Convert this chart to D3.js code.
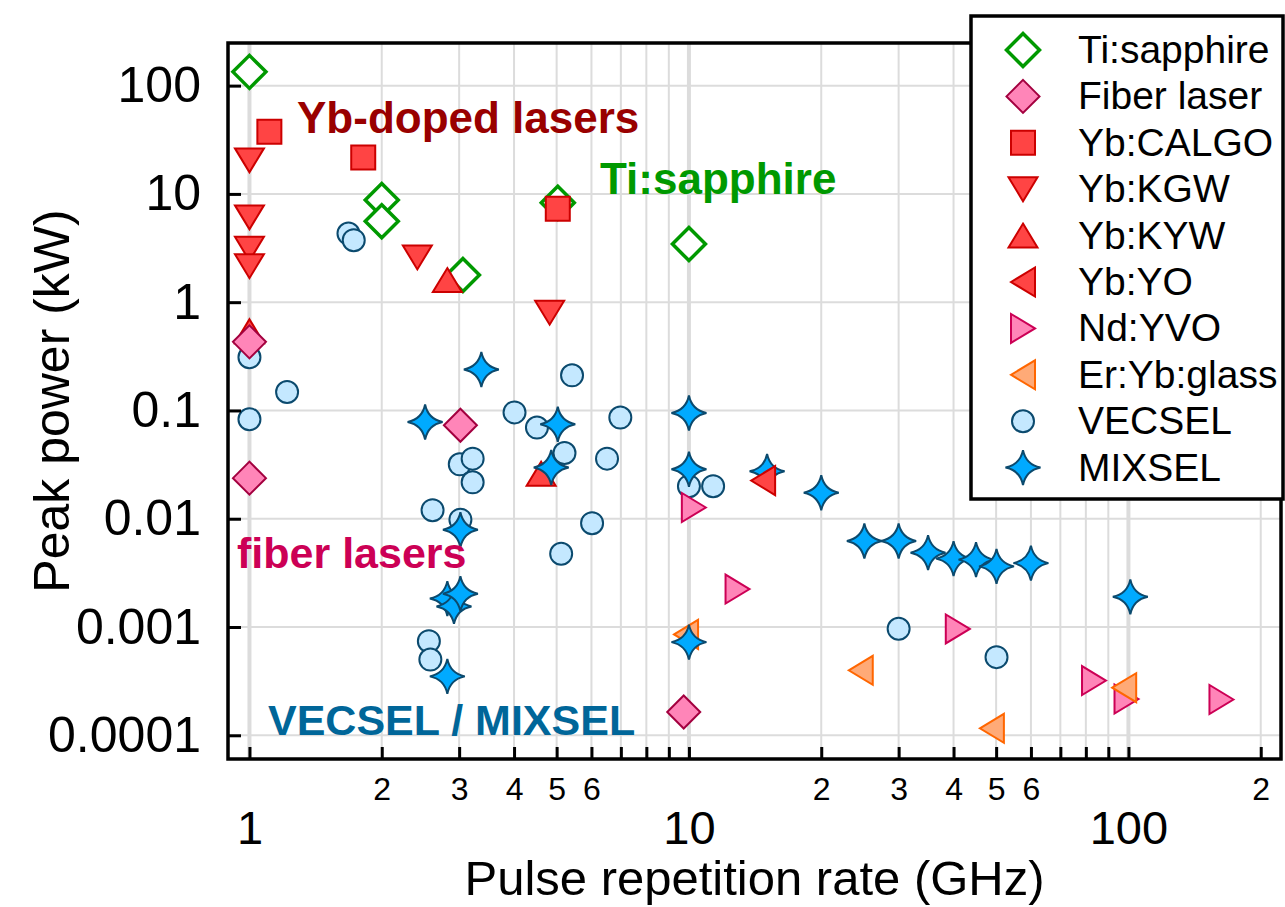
<!DOCTYPE html>
<html>
<head>
<meta charset="utf-8">
<script src="https://cdn.jsdelivr.net/npm/d3@7"></script>
<style>
  body { margin: 0; background: #fff; }
  svg { display: block; font-family: "Liberation Sans", Arial, sans-serif; }
</style>
</head>
<body>
<svg id="chart" width="1285" height="907"></svg>
<script>
// data: [repetition rate (GHz), peak power (kW)]
const tiSapphire = [[1.0, 134], [2.0, 8.8], [2.0, 5.6], [3.06, 1.78], [5.03, 8.3], [10.0, 3.44]];
const fiberLaser = [[1.0, 0.43], [1.0, 0.0237], [3.02, 0.073], [9.73, 0.000164]];
const ybCalgo = [[1.11, 37.5], [1.815, 21.7], [5.03, 7.3]];
const ybKgw = [[1.0, 20.4], [1.0, 6.07], [1.0, 3.11], [1.0, 2.15], [2.41, 2.59], [4.82, 0.80]];
const ybKyw = [[1.0, 0.54], [2.82, 1.6], [4.61, 0.026]];
const ybYo = [[14.75, 0.0225]];
const ndYvo = [[10.26, 0.0127], [12.9, 0.00224], [40.9, 0.00096], [83.5, 0.00032], [99, 0.000216], [162.8, 0.000214]];
const erYbGlass = [[9.85, 0.000855], [24.6, 0.000398], [48.9, 0.000116], [97.8, 0.000275]];
const vecsel = [[1.0, 0.31], [1.0, 0.083], [1.218, 0.148], [1.68, 4.3], [1.727, 3.74], [2.56, 0.00074],
  [2.58, 0.0005], [2.61, 0.012], [3.01, 0.0318], [3.02, 0.0098], [3.22, 0.0359], [3.22, 0.0217],
  [4.01, 0.096], [4.51, 0.0695], [5.12, 0.00475], [5.21, 0.0405], [5.42, 0.211], [6.02, 0.0091],
  [6.51, 0.0359], [6.98, 0.0859], [10.0, 0.020], [11.35, 0.020], [30, 0.000964], [50.1, 0.000527]];
const mixsel = [[2.51, 0.0783], [2.82, 0.00183], [2.82, 0.00035], [2.92, 0.00155], [3.02, 0.00203],
  [3.02, 0.0079], [3.37, 0.239], [4.86, 0.0297], [5.03, 0.0746], [10.0, 0.0948], [10.0, 0.0286],
  [10.0, 0.000725], [15.06, 0.0274], [20.0, 0.0174], [25.07, 0.00622], [30.0, 0.00622], [35.0, 0.00486],
  [40.0, 0.00428], [45.0, 0.00419], [50.1, 0.00363], [60.0, 0.00389], [101, 0.0019]];

const yTickValues = [1e-4, 1e-3, 1e-2, 1e-1, 1, 10, 100];
const yTickLabels = ["0.0001", "0.001", "0.01", "0.1", "1", "10", "100"];
const xMajorTicks = [1, 10, 100];
const xMinorLabels = ["2", "3", "4", "5", "6"];

const box = {left: 228, right: 1281, top: 43, bottom: 759};

const x = d3.scaleLog().domain([0.8937, 222.4]).range([box.left, box.right]);
const y = d3.scaleLog().domain([6.04e-5, 247.6]).range([box.bottom, box.top]);

const svg = d3.select("#chart");
svg.append("rect").attr("width", 1285).attr("height", 907).attr("fill", "#fff");

// all x ticks 1..9 per decade up to 200
let xAllTicks = [];
[1, 10, 100].forEach(dec => {
  for (let k = 1; k <= 9; k++) if (dec * k <= 200) xAllTicks.push(dec * k);
});

// grid
const grid = svg.append("g");
grid.selectAll(".vg").data(xAllTicks).enter().append("line")
    .attr("x1", d => x(d)).attr("x2", d => x(d))
    .attr("y1", box.top).attr("y2", box.bottom)
    .attr("stroke", "#dcdcdc")
    .attr("stroke-width", d => xMajorTicks.includes(d) ? 4 : 2);
grid.selectAll(".hg").data(yTickValues).enter().append("line")
    .attr("x1", box.left).attr("x2", box.right)
    .attr("y1", d => y(d)).attr("y2", d => y(d))
    .attr("stroke", "#dcdcdc").attr("stroke-width", 2);

// marker shapes
function shapePath(kind) {
  switch (kind) {
    case "diamond": return "M0,-16.5L16.5,0L0,16.5L-16.5,0Z";
    case "square": return "M-12,-12H12V12H-12Z";
    case "down": return "M-14.5,-12L14.5,-12L0,12Z";
    case "up": return "M0,-12L14.5,12L-14.5,12Z";
    case "left": return "M-12,0L12,-14.5L12,14.5Z";
    case "right": return "M12,0L-12,-14.5L-12,14.5Z";
    case "circle": return d3.symbol(d3.symbolCircle, Math.PI * 11 * 11)();
    case "star": {
      const R = 17.5, c = R * 0.17;
      return `M0,${-R}Q${c},${-c} ${R},0Q${c},${c} 0,${R}Q${-c},${c} ${-R},0Q${-c},${-c} 0,${-R}Z`;
    }
  }
}

const series = {
  ti: {name: "Ti:sapphire", data: tiSapphire, shape: "diamond", fill: "#fff", stroke: "#009900", sw: 3.5},
  fiber: {name: "Fiber laser", data: fiberLaser, shape: "diamond", fill: "#ff85b8", stroke: "#a3003f", sw: 2},
  calgo: {name: "Yb:CALGO", data: ybCalgo, shape: "square", fill: "#ff4444", stroke: "#cc0000", sw: 2},
  kgw: {name: "Yb:KGW", data: ybKgw, shape: "down", fill: "#ff4444", stroke: "#cc0000", sw: 2},
  kyw: {name: "Yb:KYW", data: ybKyw, shape: "up", fill: "#ff4444", stroke: "#cc0000", sw: 2},
  yo: {name: "Yb:YO", data: ybYo, shape: "left", fill: "#ff4444", stroke: "#cc0000", sw: 2},
  nd: {name: "Nd:YVO", data: ndYvo, shape: "right", fill: "#ff85b8", stroke: "#cc0055", sw: 2},
  er: {name: "Er:Yb:glass", data: erYbGlass, shape: "left", fill: "#ffaa77", stroke: "#ff6600", sw: 2},
  vec: {name: "VECSEL", data: vecsel, shape: "circle", fill: "#c4e8ff", stroke: "#0b4a6e", sw: 2},
  mix: {name: "MIXSEL", data: mixsel, shape: "star", fill: "#00aaff", stroke: "#0b4a6e", sw: 2}
};

const drawOrder = ["vec", "ti", "kgw", "kyw", "fiber", "calgo", "nd", "er", "mix", "yo"];
const legendOrder = ["ti", "fiber", "calgo", "kgw", "kyw", "yo", "nd", "er", "vec", "mix"];

const plot = svg.append("g");
drawOrder.forEach(key => {
  const s = series[key];
  plot.append("g").selectAll("path").data(s.data).enter().append("path")
      .attr("d", shapePath(s.shape))
      .attr("transform", d => "translate(" + x(d[0]) + "," + y(d[1]) + ")")
      .attr("fill", s.fill).attr("stroke", s.stroke).attr("stroke-width", s.sw);
});

// annotations
const notes = [
  {text: "Yb-doped lasers", x: 297, y: 133, size: 44, color: "#990000"},
  {text: "Ti:sapphire", x: 600, y: 194, size: 44, color: "#009900"},
  {text: "fiber lasers", x: 237, y: 568, size: 43, color: "#cc0055"},
  {text: "VECSEL / MIXSEL", x: 268, y: 735, size: 43, color: "#006699"}
];
svg.append("g").selectAll("text").data(notes).enter().append("text")
   .attr("x", d => d.x).attr("y", d => d.y)
   .attr("font-size", d => d.size).attr("font-weight", "bold")
   .attr("fill", d => d.color).text(d => d.text);

// axes
const yAxis = d3.axisLeft(y).tickValues(yTickValues)
    .tickSizeInner(-13).tickSizeOuter(0).tickPadding(27)
    .tickFormat((d, i) => yTickLabels[i]);
svg.append("g").attr("transform", "translate(" + box.left + ",0)").call(yAxis)
   .call(g => g.select(".domain").remove())
   .call(g => g.selectAll("line").attr("stroke", "#000").attr("stroke-width", 3))
   .call(g => g.selectAll("text").attr("font-size", 50).attr("fill", "#000").attr("font-family", null));

const xAxisMinor = d3.axisBottom(x).tickValues(xAllTicks)
    .tickSizeInner(-12).tickSizeOuter(0).tickPadding(18)
    .tickFormat(d => {
      const m = Math.round(d / Math.pow(10, Math.floor(Math.log10(d) + 1e-9)));
      return (xMinorLabels.includes(String(m)) && d < 200) || d === 200 ? String(m) : "";
    });
svg.append("g").attr("transform", "translate(0," + box.bottom + ")").call(xAxisMinor)
   .call(g => g.select(".domain").remove())
   .call(g => g.selectAll("line").attr("stroke", "#000").attr("stroke-width", 3))
   .call(g => g.selectAll("text").attr("font-size", 32).attr("fill", "#000").attr("font-family", null));

const xAxisMajor = d3.axisBottom(x).tickValues(xMajorTicks)
    .tickSize(0).tickPadding(52).tickFormat(d3.format("d"));
svg.append("g").attr("transform", "translate(0," + box.bottom + ")").call(xAxisMajor)
   .call(g => g.select(".domain").remove())
   .call(g => g.selectAll("text").attr("font-size", 47).attr("fill", "#000").attr("font-family", null));

// frame
svg.append("rect")
   .attr("x", box.left).attr("y", box.top)
   .attr("width", box.right - box.left).attr("height", box.bottom - box.top)
   .attr("fill", "none").attr("stroke", "#000").attr("stroke-width", 3.5);

// axis titles
svg.append("text")
   .attr("x", (box.left + box.right) / 2).attr("y", 895)
   .attr("text-anchor", "middle").attr("font-size", 49)
   .text("Pulse repetition rate (GHz)");
svg.append("text")
   .attr("transform", "translate(69," + (box.top + box.bottom) / 2 + ") rotate(-90)")
   .attr("text-anchor", "middle").attr("font-size", 50)
   .text("Peak power (kW)");

// legend
const legend = svg.append("g");
legend.append("rect")
   .attr("x", 971).attr("y", 16).attr("width", 312).attr("height", 483)
   .attr("fill", "#fff").attr("stroke", "#000").attr("stroke-width", 3.5);
legendOrder.forEach((key, i) => {
  const s = series[key];
  const cy = 50 + i * 46.4;
  legend.append("path")
     .attr("d", shapePath(s.shape))
     .attr("transform", "translate(1023," + cy + ")")
     .attr("fill", s.fill).attr("stroke", s.stroke).attr("stroke-width", s.sw);
  legend.append("text")
     .attr("x", 1078).attr("y", cy + 13)
     .attr("font-size", 39).text(s.name);
});
</script>
</body>
</html>
